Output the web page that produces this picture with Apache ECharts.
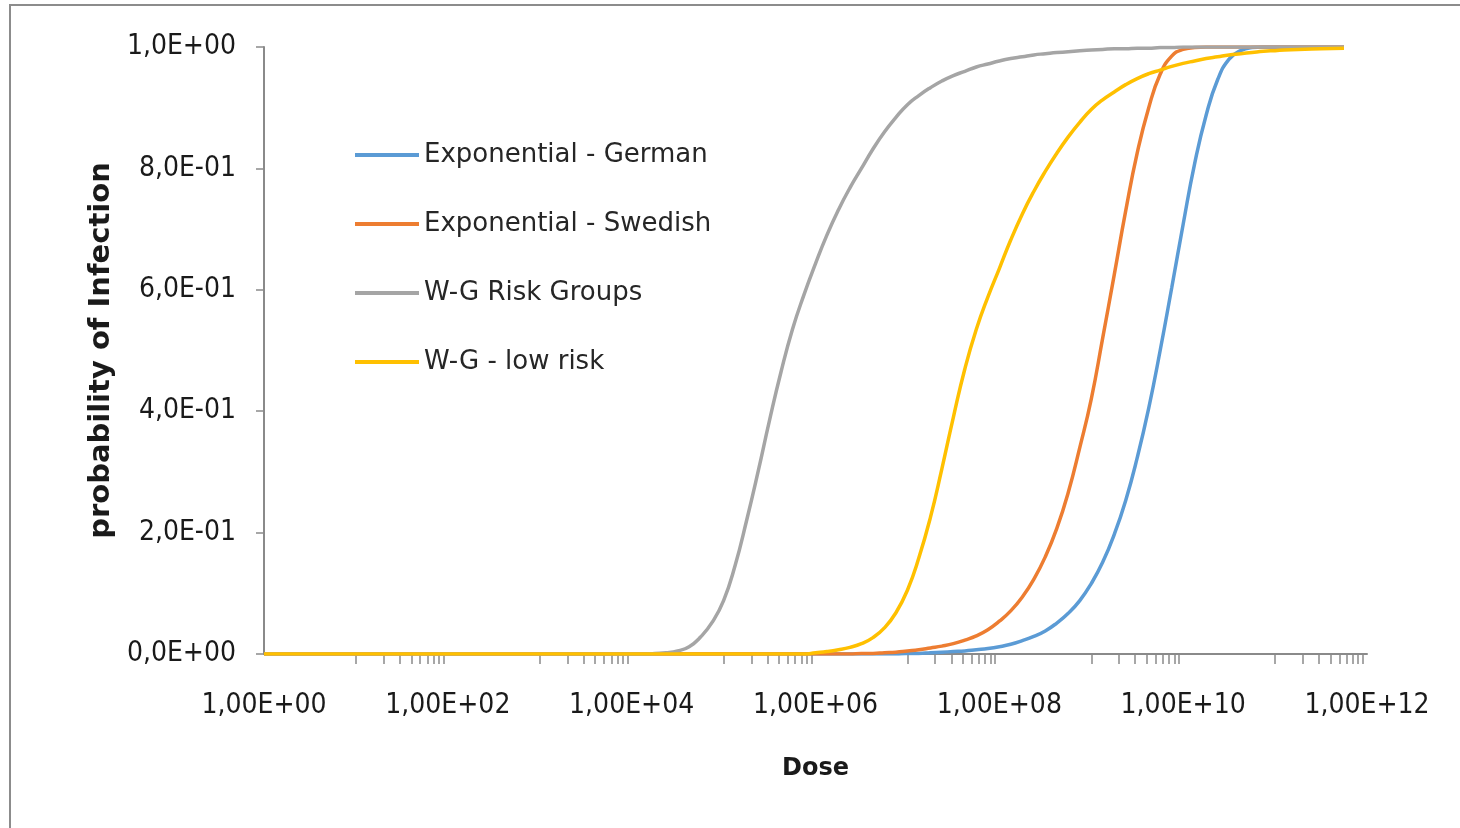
<!DOCTYPE html>
<html>
<head>
<meta charset="utf-8">
<script src="https://cdn.jsdelivr.net/npm/echarts@6.0.0/dist/echarts.min.js"></script>
<style>
  html, body { margin: 0; padding: 0; background: #fff; }
  #chart { width: 1460px; height: 828px; }
</style>
</head>
<body>
<div id="chart"></div>
<script>
// dose grid, 1/8 decade steps through the rising part
const doses = [1, 1e1, 1e2, 1e3,
  1e4, 1.33e4, 1.78e4, 2.37e4, 3.16e4, 4.22e4, 5.62e4, 7.5e4,
  1e5, 1.33e5, 1.78e5, 2.37e5, 3.16e5, 4.22e5, 5.62e5, 7.5e5,
  1e6, 1.33e6, 1.78e6, 2.37e6, 3.16e6, 4.22e6, 5.62e6, 7.5e6,
  1e7, 1.33e7, 1.78e7, 2.37e7, 3.16e7, 4.22e7, 5.62e7, 7.5e7,
  1e8, 1.33e8, 1.78e8, 2.37e8, 3.16e8, 4.22e8, 5.62e8, 7.5e8,
  1e9, 1.33e9, 1.78e9, 2.37e9, 3.16e9, 4.22e9, 5.62e9, 7.5e9,
  1e10, 1.33e10, 1.78e10, 2.37e10, 3.16e10, 4.22e10, 5.62e10, 7.5e10,
  1e11, 1.78e11, 3.16e11, 5.62e11];

const germanP = [0, 0, 0, 0,
  0, 0, 0, 0, 0, 0, 0, 0,
  0, 0, 0, 0, 0, 0, 0, 0,
  0, 0, 0, 0, 0, 0, 0, 0,
  0.001, 0.001, 0.002, 0.003, 0.004, 0.005, 0.007, 0.009,
  0.012, 0.016, 0.022, 0.029, 0.038, 0.051, 0.067, 0.088,
  0.116, 0.151, 0.197, 0.253, 0.323, 0.405, 0.5, 0.603,
  0.708, 0.807, 0.888, 0.946, 0.98, 0.994, 0.999, 1,
  1, 1, 1, 1];

const swedishP = [0, 0, 0, 0,
  0, 0, 0, 0, 0, 0, 0, 0,
  0, 0, 0, 0, 0, 0, 0, 0,
  0, 0, 0, 0, 0.001, 0.001, 0.002, 0.003,
  0.005, 0.007, 0.01, 0.013, 0.017, 0.023, 0.03, 0.04,
  0.054, 0.071, 0.094, 0.123, 0.16, 0.207, 0.266, 0.34,
  0.42, 0.52, 0.625, 0.73, 0.825, 0.9, 0.955, 0.985,
  0.996, 0.999, 1, 1, 1, 1, 1, 1,
  1, 1, 1, 1];

const riskGroupsP = [0, 0, 0, 0,
  0, 0, 0.001, 0.002, 0.005, 0.012, 0.028, 0.052,
  0.088, 0.145, 0.22, 0.3, 0.385, 0.465, 0.535, 0.592,
  0.643, 0.69, 0.732, 0.768, 0.8, 0.832, 0.86, 0.884,
  0.905, 0.92, 0.933, 0.944, 0.953, 0.96, 0.967, 0.972,
  0.977, 0.981, 0.984, 0.987, 0.989, 0.991, 0.992, 0.994,
  0.995, 0.996, 0.997, 0.997, 0.998, 0.998, 0.999, 0.999,
  1, 1, 1, 1, 1, 1, 1, 1,
  1, 1, 1, 1];

const lowRiskP = [0, 0, 0, 0,
  0, 0, 0, 0, 0, 0, 0, 0,
  0, 0, 0, 0, 0, 0, 0, 0,
  0.002, 0.004, 0.007, 0.011, 0.017, 0.027, 0.043, 0.068,
  0.105, 0.158, 0.225, 0.305, 0.39, 0.47, 0.535, 0.588,
  0.635, 0.682, 0.725, 0.762, 0.795, 0.825, 0.852, 0.876,
  0.897, 0.913, 0.926, 0.938, 0.948, 0.956, 0.962, 0.968,
  0.973, 0.977, 0.981, 0.984, 0.987, 0.989, 0.991, 0.993,
  0.994, 0.996, 0.997, 0.998];

const seriesNames = ['Exponential - German', 'Exponential - Swedish', 'W-G Risk Groups', 'W-G - low risk'];
const seriesColors = ['#5B9BD5', '#ED7D31', '#A5A5A5', '#FFC000'];

const xTickValues = [1, 1e2, 1e4, 1e6, 1e8, 1e10, 1e12];
const xTickLabels = ['1,00E+00', '1,00E+02', '1,00E+04', '1,00E+06', '1,00E+08', '1,00E+10', '1,00E+12'];
const yTickLabels = ['0,0E+00', '2,0E-01', '4,0E-01', '6,0E-01', '8,0E-01', '1,0E+00'];

// minor ticks: 10..90 times every second decade (Excel base-100 style)
const minorSteps = [10, 20, 30, 40, 50, 60, 70, 80, 90];
const minorTicks = [];
xTickValues.slice(0, -1).forEach(base => minorSteps.forEach(m => minorTicks.push(base * m)));

const tickFont = "'DejaVu Sans Condensed', 'DejaVu Sans', sans-serif";
const axisGray = '#8a8a8a';

const allP = [germanP, swedishP, riskGroupsP, lowRiskP];

const chart = echarts.init(document.getElementById('chart'));
chart.setOption({
  backgroundColor: '#fff',
  animation: false,
  graphic: [{
    type: 'rect',
    silent: true,
    z: -1,
    shape: { x: 10, y: 5, width: 1600, height: 1000 },
    style: { fill: 'none', stroke: '#8c8c8c', lineWidth: 2 }
  }],
  grid: { left: 264, top: 47, right: 93, bottom: 174, containLabel: false },
  legend: {
    orient: 'vertical',
    left: 355,
    top: 140,
    padding: 0,
    icon: 'rect',
    itemWidth: 64,
    itemHeight: 4,
    itemGap: 39,
    data: seriesNames,
    textStyle: { fontFamily: 'DejaVu Sans', fontSize: 26, lineHeight: 30, color: '#262626' }
  },
  xAxis: {
    type: 'log',
    logBase: 10,
    min: 1,
    max: 1e12,
    name: 'Dose',
    nameLocation: 'middle',
    nameGap: 103,
    nameTextStyle: { fontFamily: 'DejaVu Sans', fontWeight: 'bold', fontSize: 24, color: '#1a1a1a' },
    axisLine: { show: true, lineStyle: { color: axisGray, width: 2 } },
    axisTick: { show: true, inside: false, length: 10, customValues: minorTicks, lineStyle: { color: axisGray, width: 1.5 } },
    axisLabel: {
      customValues: xTickValues,
      margin: 38,
      fontFamily: tickFont,
      fontSize: 28,
      color: '#1a1a1a',
      formatter: v => xTickLabels[Math.round(Math.log10(v) / 2)]
    },
    splitLine: { show: false },
    minorSplitLine: { show: false }
  },
  yAxis: {
    type: 'value',
    min: 0,
    max: 1,
    interval: 0.2,
    name: 'probability of Infection',
    nameLocation: 'middle',
    nameGap: 122,
    nameTextStyle: { fontFamily: 'DejaVu Sans', fontWeight: 'bold', fontSize: 29, color: '#1a1a1a' },
    axisLine: { show: true, lineStyle: { color: axisGray, width: 2 } },
    axisTick: { show: true, inside: false, length: 8, lineStyle: { color: axisGray, width: 1.5 } },
    axisLabel: {
      margin: 28,
      fontFamily: tickFont,
      fontSize: 28,
      color: '#1a1a1a',
      formatter: v => yTickLabels[Math.round(v * 5)]
    },
    splitLine: { show: false }
  },
  series: seriesNames.map((name, i) => ({
    name: name,
    type: 'line',
    data: doses.map((d, j) => [d, allP[i][j]]),
    symbol: 'none',
    smooth: 0.5,
    color: seriesColors[i],
    lineStyle: { color: seriesColors[i], width: 3.5 }
  }))
});
</script>
</body>
</html>
